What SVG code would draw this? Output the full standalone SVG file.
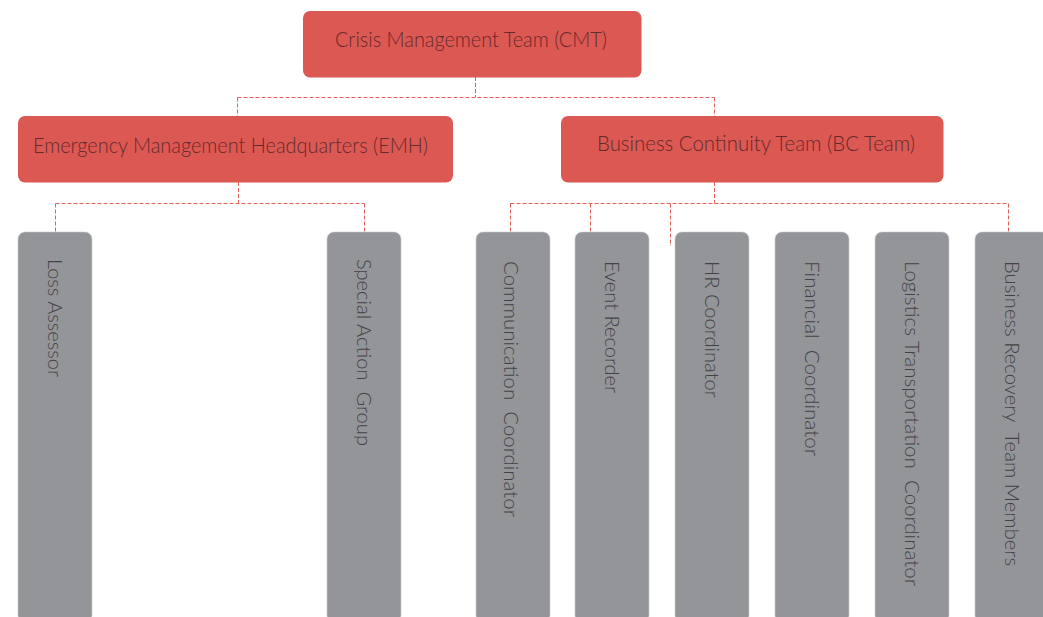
<svg xmlns="http://www.w3.org/2000/svg" width="1043" height="617" viewBox="0 0 1043 617" xml:space="preserve">
<style>
.red{fill:#dc5853}
.gray{fill:#939598;stroke:#c9cacc;stroke-width:0.6}
.rt{font-family:Lato,"Open Sans","Liberation Sans",sans-serif;font-weight:300;font-size:21.5px;fill:#652a2a;white-space:pre}
.gt{font-family:Lato,"Open Sans","Liberation Sans",sans-serif;font-weight:300;font-size:20px;fill:#434347;white-space:pre}
.conn{fill:none;stroke:#e0605c;stroke-width:1;stroke-dasharray:4 2}
</style>
<rect width="1043" height="617" fill="#ffffff"/>
<g id="connectors">
<path class="conn" d="M475.5,77 V97.5 M237.5,97.5 H714.5 M237.5,97.5 V116 M714.5,97.5 V116"/>
<path class="conn" d="M238.5,182 V203.5 M55.5,203.5 H364.5 M55.5,203.5 V232 M364.5,203.5 V232"/>
<path class="conn" d="M714.5,182 V203.5 M510.5,203.5 H1008.5 M510.5,203.5 V232 M590.5,203.5 V232 M670.5,203.5 V246 M1008.5,203.5 V232"/>
</g>
<g id="cmt">
<rect class="red" x="303" y="11" width="338.5" height="66.5" rx="7"/>
<text class="rt" x="335" y="47" textLength="272" lengthAdjust="spacingAndGlyphs">Crisis Management Team (CMT)</text>
</g>
<g id="emh">
<rect class="red" x="18" y="116" width="435" height="66.5" rx="7"/>
<text class="rt" x="33" y="153" textLength="395" lengthAdjust="spacingAndGlyphs">Emergency Management Headquarters (EMH)</text>
</g>
<g id="bc">
<rect class="red" x="561" y="116" width="382.5" height="66.5" rx="7"/>
<text class="rt" x="597" y="151" textLength="318" lengthAdjust="spacingAndGlyphs">Business Continuity Team (BC Team)</text>
</g>
<g id="loss-assessor">
<rect class="gray" x="18" y="232" width="74" height="390" rx="7"/>
<text class="gt" transform="translate(47.5,259) rotate(90)" x="0" y="0" textLength="118" lengthAdjust="spacingAndGlyphs">Loss Assessor</text>
</g>
<g id="special-action-group">
<rect class="gray" x="327" y="232" width="74" height="390" rx="7"/>
<text class="gt" transform="translate(356.5,259) rotate(90)" x="0" y="0" textLength="187" lengthAdjust="spacingAndGlyphs">Special Action  Group</text>
</g>
<g id="communication-coordinator">
<rect class="gray" x="476" y="232" width="74" height="390" rx="7"/>
<text class="gt" transform="translate(503.5,261) rotate(90)" x="0" y="0" textLength="256" lengthAdjust="spacingAndGlyphs">Communication  Coordinator</text>
</g>
<g id="event-recorder">
<rect class="gray" x="575" y="232" width="74" height="390" rx="7"/>
<text class="gt" transform="translate(604.5,261) rotate(90)" x="0" y="0" textLength="132" lengthAdjust="spacingAndGlyphs">Event Recorder</text>
</g>
<g id="hr-coordinator">
<rect class="gray" x="675" y="232" width="74" height="390" rx="7"/>
<text class="gt" transform="translate(704.5,261) rotate(90)" x="0" y="0" textLength="137" lengthAdjust="spacingAndGlyphs">HR Coordinator</text>
</g>
<g id="financial-coordinator">
<rect class="gray" x="775" y="232" width="74" height="390" rx="7"/>
<text class="gt" transform="translate(804.5,261) rotate(90)" x="0" y="0" textLength="195" lengthAdjust="spacingAndGlyphs">Financial  Coordinator</text>
</g>
<g id="logistics-transportation-coordinator">
<rect class="gray" x="875" y="232" width="74" height="390" rx="7"/>
<text class="gt" transform="translate(904.5,261) rotate(90)" x="0" y="0" textLength="325" lengthAdjust="spacingAndGlyphs">Logistics Transportation  Coordinator</text>
</g>
<g id="business-recovery-team-members">
<rect class="gray" x="975" y="232" width="74" height="390" rx="7"/>
<text class="gt" transform="translate(1004.5,261) rotate(90)" x="0" y="0" textLength="305" lengthAdjust="spacingAndGlyphs">Business Recovery  Team Members</text>
</g>
</svg>
